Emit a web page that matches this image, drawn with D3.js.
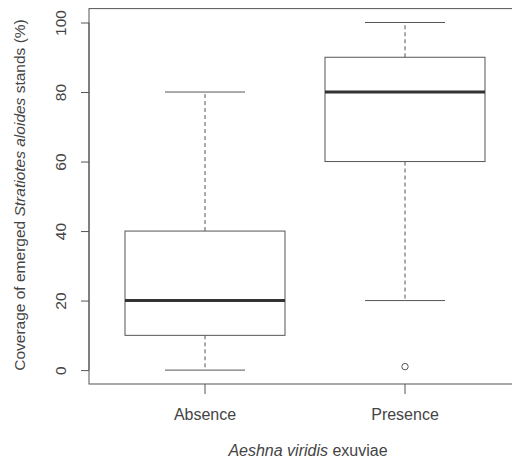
<!DOCTYPE html>
<html>
<head>
<meta charset="utf-8">
<script src="https://cdn.jsdelivr.net/npm/d3@7"></script>
<style>
  body { margin: 0; background: #fff; }
  svg text { font-family: "Liberation Sans", Arial, sans-serif; fill: #444; }
</style>
</head>
<body>
<div id="chart"></div>
<script>
// box statistics
const groups = ["Absence", "Presence"];
const whiskerLow = [0, 20];
const q1 = [10, 60];
const medians = [20, 80];
const q3 = [40, 90];
const whiskerHigh = [80, 100];
const outliers = [[], [1]];
const yTicks = [0, 20, 40, 60, 80, 100];

const width = 512, height = 462;
const stroke = "#555";
const fontSize = "15.5px";

const svg = d3.select("#chart").append("svg")
    .attr("width", width)
    .attr("height", height);

// R style: xlim 0.5..2.5 and ylim 0..100, each widened by 4%
const x = d3.scaleBand()
    .domain(groups)
    .range([89, 521])
    .paddingInner(0)
    .paddingOuter(0.08);
const y = d3.scaleLinear()
    .domain([-4, 104])
    .range([384, 8.6]);

const cx = g => x(g) + x.bandwidth() / 2;
const boxHalf = x.bandwidth() * 0.4;
const capHalf = boxHalf / 2;

const data = groups.map((g, i) => ({
    group: g, lo: whiskerLow[i], q1: q1[i], med: medians[i],
    q3: q3[i], hi: whiskerHigh[i], out: outliers[i]
}));

const plot = svg.append("g");

data.forEach(d => {
    const c = cx(d.group);
    // whiskers (dashed)
    plot.append("line")
        .attr("x1", c).attr("x2", c)
        .attr("y1", y(d.q3)).attr("y2", y(d.hi))
        .attr("stroke", stroke).attr("stroke-dasharray", "4,3");
    plot.append("line")
        .attr("x1", c).attr("x2", c)
        .attr("y1", y(d.q1)).attr("y2", y(d.lo))
        .attr("stroke", stroke).attr("stroke-dasharray", "4,3");
    // caps
    [d.lo, d.hi].forEach(v => {
        plot.append("line")
            .attr("x1", c - capHalf).attr("x2", c + capHalf)
            .attr("y1", y(v)).attr("y2", y(v))
            .attr("stroke", stroke);
    });
    // box
    plot.append("rect")
        .attr("x", c - boxHalf)
        .attr("y", y(d.q3))
        .attr("width", boxHalf * 2)
        .attr("height", y(d.q1) - y(d.q3))
        .attr("fill", "#fff")
        .attr("stroke", stroke);
    // median
    plot.append("line")
        .attr("x1", c - boxHalf).attr("x2", c + boxHalf)
        .attr("y1", y(d.med)).attr("y2", y(d.med))
        .attr("stroke", "#333").attr("stroke-width", 3);
    // outliers
    plot.selectAll(null)
        .data(d.out)
        .enter().append("circle")
        .attr("cx", c)
        .attr("cy", v => y(v))
        .attr("r", 3.2)
        .attr("fill", "none")
        .attr("stroke", stroke);
});

// frame
svg.append("rect")
    .attr("x", 89).attr("y", 8.6)
    .attr("width", 432).attr("height", 384 - 8.6)
    .attr("fill", "none")
    .attr("stroke", stroke);

// y axis
const yAxis = svg.append("g")
    .attr("transform", "translate(89,0)")
    .call(d3.axisLeft(y).tickValues(yTicks).tickSize(8).tickPadding(0).tickFormat(d3.format("d")));
yAxis.select(".domain")
    .attr("d", `M-0,${y(0)}V${y(100)}`)
    .attr("stroke", stroke);
yAxis.selectAll(".tick line").attr("stroke", stroke);
yAxis.selectAll(".tick text")
    .attr("x", null).attr("dy", null)
    .attr("transform", "translate(-29,0) rotate(-90)")
    .attr("text-anchor", "middle")
    .attr("dominant-baseline", "central")
    .style("font-size", fontSize)
    .style("font-family", "'Liberation Sans', Arial, sans-serif")
    .attr("fill", "#444");

// x axis
const xAxis = svg.append("g")
    .attr("transform", "translate(0,384)")
    .call(d3.axisBottom(x).tickSize(10).tickPadding(15));
xAxis.select(".domain").remove();
xAxis.selectAll(".tick line").attr("stroke", stroke);
xAxis.selectAll(".tick text")
    .style("font-size", "16px")
    .style("font-family", "'Liberation Sans', Arial, sans-serif")
    .attr("fill", "#444");

// axis titles
const xt = svg.append("text")
    .attr("x", 308).attr("y", 456)
    .attr("text-anchor", "middle")
    .style("font-size", "16px");
xt.append("tspan").style("font-style", "italic").text("Aeshna viridis");
xt.append("tspan").text(" exuviae");

const yt = svg.append("text")
    .attr("transform", "translate(25,195) rotate(-90)")
    .attr("text-anchor", "middle")
    .style("font-size", fontSize);
yt.append("tspan").text("Coverage of emerged ");
yt.append("tspan").style("font-style", "italic").text("Stratiotes aloides");
yt.append("tspan").text(" stands (%)");
</script>
</body>
</html>
